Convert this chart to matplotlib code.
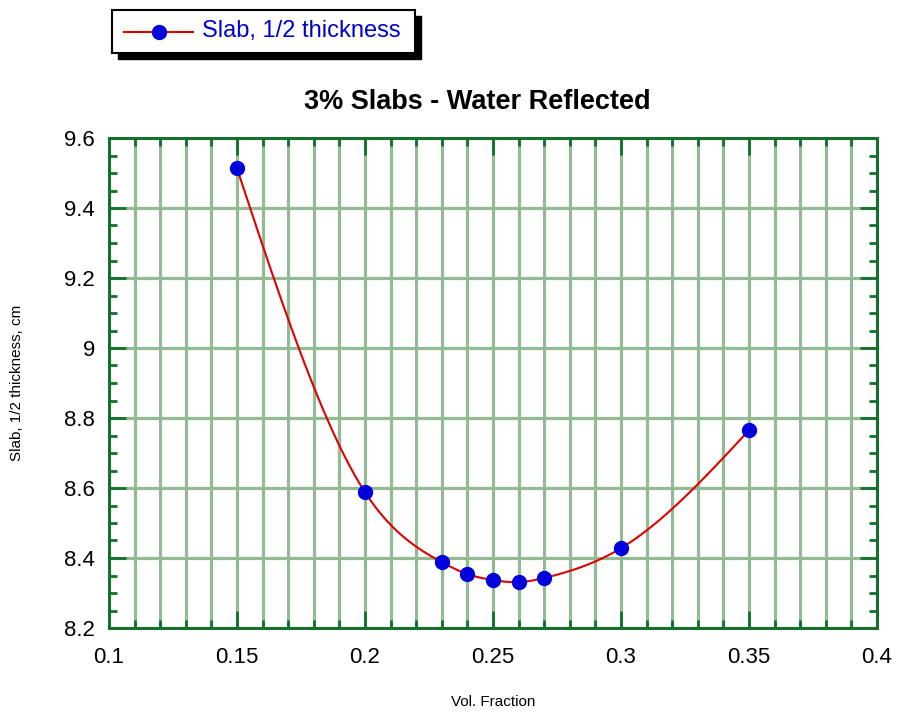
import numpy as np
import matplotlib
matplotlib.use("Agg")
import matplotlib.pyplot as plt
from matplotlib.ticker import MultipleLocator
from matplotlib.patches import Rectangle

plt.rcParams['font.family'] = ['Liberation Sans', 'DejaVu Sans']

vol_fraction = [0.15, 0.20, 0.23, 0.24, 0.25, 0.26, 0.27, 0.30, 0.35]
half_thickness = [9.513, 8.588, 8.388, 8.354, 8.337, 8.331, 8.343, 8.428, 8.765]

title = "3% Slabs - Water Reflected"
xlabel = "Vol. Fraction"
ylabel = "Slab, 1/2 thickness, cm"
series_name = "Slab, 1/2 thickness"


def smooth_curve(x, y, n=400):
    # natural cubic spline used only to render a smoothed line through the data
    x = np.asarray(x, float); y = np.asarray(y, float)
    m = len(x)
    h = np.diff(x)
    A = np.zeros((m, m)); b = np.zeros(m)
    A[0, 0] = 1; A[-1, -1] = 1
    for i in range(1, m - 1):
        A[i, i - 1] = h[i - 1]
        A[i, i] = 2 * (h[i - 1] + h[i])
        A[i, i + 1] = h[i]
        b[i] = 6 * ((y[i + 1] - y[i]) / h[i] - (y[i] - y[i - 1]) / h[i - 1])
    M = np.linalg.solve(A, b)
    xs = np.linspace(x[0], x[-1], n)
    idx = np.clip(np.searchsorted(x, xs) - 1, 0, m - 2)
    x0, x1 = x[idx], x[idx + 1]
    hh = x1 - x0
    t0 = x1 - xs; t1 = xs - x0
    ys = (M[idx] * t0 ** 3 / (6 * hh) + M[idx + 1] * t1 ** 3 / (6 * hh)
          + (y[idx] / hh - M[idx] * hh / 6) * t0 + (y[idx + 1] / hh - M[idx + 1] * hh / 6) * t1)
    return xs, ys


fig = plt.figure(figsize=(8.98, 7.15), dpi=100)
ax = fig.add_axes([109 / 898, 1 - 628 / 715, (877 - 109) / 898, (628 - 138) / 715])

ax.set_xlim(0.1, 0.4)
ax.set_ylim(8.2, 9.6)

ax.xaxis.set_major_locator(MultipleLocator(0.05))
ax.xaxis.set_minor_locator(MultipleLocator(0.01))
ax.yaxis.set_major_locator(MultipleLocator(0.2))
ax.yaxis.set_minor_locator(MultipleLocator(0.05))

grid_color = '#93bb93'
ax.grid(True, which='major', axis='y', color=grid_color, lw=2.3, zorder=1)
ax.grid(True, which='both', axis='x', color=grid_color, lw=2.3, zorder=1)

spine_color = '#14702a'
for s in ax.spines.values():
    s.set_color(spine_color)
    s.set_linewidth(2.2)

ax.tick_params(which='both', direction='in', top=True, right=True, color=spine_color,
               labelsize=16, pad=10)
ax.tick_params(which='major', length=12, width=2)
ax.tick_params(which='minor', length=6, width=2)
ax.tick_params(axis='x', which='major', pad=14)

ax.set_xticks([0.1, 0.15, 0.2, 0.25, 0.3, 0.35, 0.4])
ax.set_xticklabels(['0.1', '0.15', '0.2', '0.25', '0.3', '0.35', '0.4'])
ax.set_yticks([8.2, 8.4, 8.6, 8.8, 9.0, 9.2, 9.4, 9.6])
ax.set_yticklabels(['8.2', '8.4', '8.6', '8.8', '9', '9.2', '9.4', '9.6'])

sx, sy = smooth_curve(vol_fraction, half_thickness)
ax.plot(sx, sy, color='#e00000', lw=1.5, zorder=3)
ax.plot(vol_fraction, half_thickness, 'o', color='#0000dd', ms=10, zorder=4, clip_on=False)

fw, fh = 898, 715
fig.text(477 / fw, 1 - 102 / fh, title, fontsize=19.5, fontweight='bold', ha='center', va='center')
fig.text(493 / fw, 1 - 702 / fh, xlabel, fontsize=11, ha='center', va='center')
fig.text(17 / fw, 1 - 383 / fh, ylabel, fontsize=11, ha='center', va='center', rotation=90)

# legend box with shadow
lx0, ly0, lx1, ly1 = 112, 10, 415, 53
fig.patches.append(Rectangle(((lx0 + 6) / fw, 1 - (ly1 + 6) / fh), (lx1 - lx0) / fw, (ly1 - ly0) / fh,
                             transform=fig.transFigure, facecolor='black', edgecolor='black', zorder=1))
fig.patches.append(Rectangle((lx0 / fw, 1 - ly1 / fh), (lx1 - lx0) / fw, (ly1 - ly0) / fh,
                             transform=fig.transFigure, facecolor='white', edgecolor='black', lw=1.5, zorder=2))
ly = 1 - 31.5 / fh
fig.add_artist(plt.Line2D([124 / fw, 193 / fw], [ly, ly], color='#e00000', lw=1.5,
                          transform=fig.transFigure, zorder=3))
fig.add_artist(plt.Line2D([159 / fw], [ly], marker='o', color='#0000dd', ms=10,
                          transform=fig.transFigure, zorder=4))
fig.text(202 / fw, ly, series_name, color='#0000cc', fontsize=17, va='center', ha='left', zorder=5)

fig.savefig('out.png', dpi=100)
